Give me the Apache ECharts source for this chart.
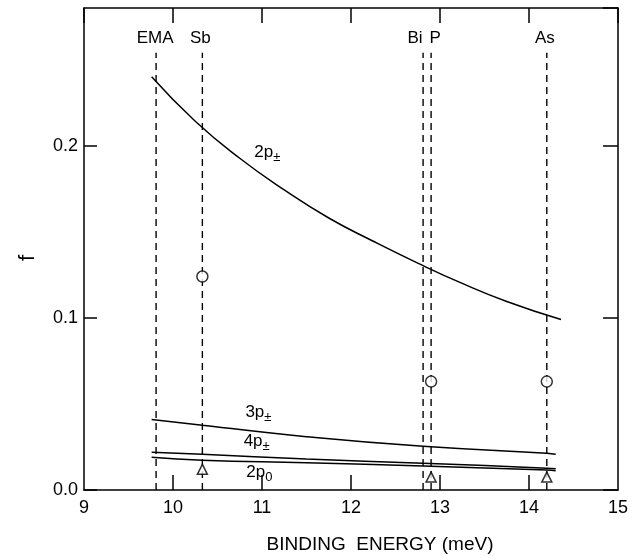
<!DOCTYPE html>
<html>
<head>
<meta charset="utf-8">
<script src="https://cdn.jsdelivr.net/npm/echarts@6/dist/echarts.min.js"></script>
<style>
  html, body { margin: 0; padding: 0; background: #fff; }
  #chart { width: 634px; height: 556px; }
</style>
</head>
<body>
<div id="chart"></div>
<script>
// 2p± curve
const energy2pPM = [9.76, 10.25, 10.75, 11.25, 11.75, 12.25, 12.75, 13.25, 13.75, 14.36];
const f2pPM = [0.240, 0.2142, 0.1927, 0.1743, 0.158, 0.1445, 0.1318, 0.1200, 0.1095, 0.099];
// lower curves
const energyLow = [9.76, 10.33, 11.5, 12.81, 14.20, 14.30];
const f3pPM = [0.041, 0.0376, 0.031, 0.0254, 0.0214, 0.0208];
const f4pPM = [0.022, 0.0208, 0.018, 0.0156, 0.0127, 0.0123];
const f2p0 = [0.019, 0.0173, 0.0158, 0.0139, 0.0116, 0.0112];
// donors (vertical dashed lines)
const donorNames = ["EMA", "Sb", "Bi", "P", "As"];
const donorEnergy = [9.81, 10.33, 12.81, 12.90, 14.20];
const donorTop = 0.254;
// measured points
const measEnergy = [10.33, 12.90, 14.20];
const circleF = [0.124, 0.063, 0.063];
const triangleF = [0.012, 0.0075, 0.0075];
// inner ticks on the bottom edge
const bottomTicks = [10, 11, 12, 13, 14];

const font = "Liberation Sans";
const pair = (xs, ys) => xs.map((x, i) => [x, ys[i]]);

const curve = (data) => ({
  type: "line",
  data: data,
  smooth: 0.5,
  symbol: "none",
  lineStyle: { color: "#000", width: 1.5 },
  z: 3,
});

const series = [
  curve(pair(energy2pPM, f2pPM)),
  curve(pair(energyLow, f3pPM)),
  curve(pair(energyLow, f4pPM)),
  curve(pair(energyLow, f2p0)),
];

donorEnergy.forEach((e) => {
  series.push({
    type: "line",
    data: [[e, 0], [e, donorTop]],
    symbol: "none",
    lineStyle: { color: "#000", width: 1.4, type: [7, 5] },
    z: 2,
  });
});

series.push({
  type: "scatter",
  data: pair(measEnergy, circleF),
  symbol: "circle",
  symbolSize: 11,
  itemStyle: { color: "#fff", borderColor: "#000", borderWidth: 1.5 },
  z: 5,
});
series.push({
  type: "scatter",
  data: pair(measEnergy, triangleF),
  symbol: "triangle",
  symbolSize: [10, 10],
  itemStyle: { color: "#fff", borderColor: "#000", borderWidth: 1.5 },
  z: 5,
});

const line = () => ({ show: true, onZero: false, lineStyle: { color: "#000", width: 1.5 } });
const ticks = (len) => ({ show: true, inside: true, length: len, lineStyle: { color: "#000", width: 1.5 } });

const chart = echarts.init(document.getElementById("chart"));
chart.setOption({
  animation: false,
  backgroundColor: "#fff",
  grid: { left: 84, right: 16, top: 8, bottom: 66 },
  xAxis: [
    {
      type: "value", position: "bottom", min: 9, max: 15, interval: 1,
      axisLine: line(),
      axisTick: { show: false },
      axisLabel: { color: "#000", fontSize: 18, fontFamily: font, margin: 9 },
      splitLine: { show: false },
    },
    {
      type: "value", position: "top", min: 9, max: 15, interval: 1,
      axisLine: line(), axisTick: ticks(15),
      axisLabel: { show: false }, splitLine: { show: false },
    },
  ],
  yAxis: [
    {
      type: "value", min: 0, max: 0.28, interval: 0.1,
      axisLine: line(),
      axisTick: ticks(13),
      axisLabel: {
        color: "#000", fontSize: 18, fontFamily: font, margin: 6,
        showMaxLabel: false,
        formatter: (v) => v.toFixed(1),
      },
      splitLine: { show: false },
    },
    {
      type: "value", position: "right", min: 0, max: 0.28, interval: 0.1,
      axisLine: line(), axisTick: ticks(15),
      axisLabel: { show: false }, splitLine: { show: false },
    },
  ],
  series: series,
});

// annotations anchored to data coordinates
const px = (x, y) => chart.convertToPixel({ xAxisIndex: 0, yAxisIndex: 0 }, [x, y]);
const graphics = [];
const textEl = (x, y, text, size) => ({
  type: "text",
  x: x, y: y,
  style: {
    text: text, fill: "#000", font: size + "px '" + font + "'",
    align: "center", verticalAlign: "middle",
  },
  z: 10,
});

// bottom inner ticks (pointing up from the f = 0 edge)
bottomTicks.forEach((t) => {
  const p = px(t, 0);
  graphics.push({
    type: "line",
    shape: { x1: p[0], y1: p[1], x2: p[0], y2: p[1] - 15 },
    style: { stroke: "#000", lineWidth: 1.5 },
    z: 10,
  });
});

// donor labels above dashed lines
const labelShift = [-1, -2, -8, 4, -2];
donorNames.forEach((n, i) => {
  const p = px(donorEnergy[i], donorTop);
  graphics.push(textEl(p[0] + labelShift[i], p[1] - 14, n, 17));
});

// curve labels
const subRich = {
  m: { fontSize: 17, fontFamily: font, fill: "#000" },
  s: { fontSize: 13, fontFamily: font, fill: "#000", padding: [10, 0, 0, 0] },
};
const curveLabel = (x, y, main, sub) => {
  const p = px(x, y);
  return {
    type: "text", x: p[0], y: p[1], z: 11,
    style: {
      text: "{m|" + main + "}{s|" + sub + "}",
      rich: subRich, align: "center", verticalAlign: "middle",
    },
  };
};
graphics.push(curveLabel(11.06, 0.196, "2p", "±"));
graphics.push(curveLabel(10.96, 0.045, "3p", "±"));
graphics.push(curveLabel(10.94, 0.028, "4p", "±"));
graphics.push(curveLabel(10.97, 0.010, "2p", "0"));

// axis titles
graphics.push(textEl(380, 545, "BINDING  ENERGY (meV)", 19));
const yName = textEl(28, 258, "f", 22);
yName.rotation = Math.PI / 2;
graphics.push(yName);

chart.setOption({ graphic: graphics });
</script>
</body>
</html>
